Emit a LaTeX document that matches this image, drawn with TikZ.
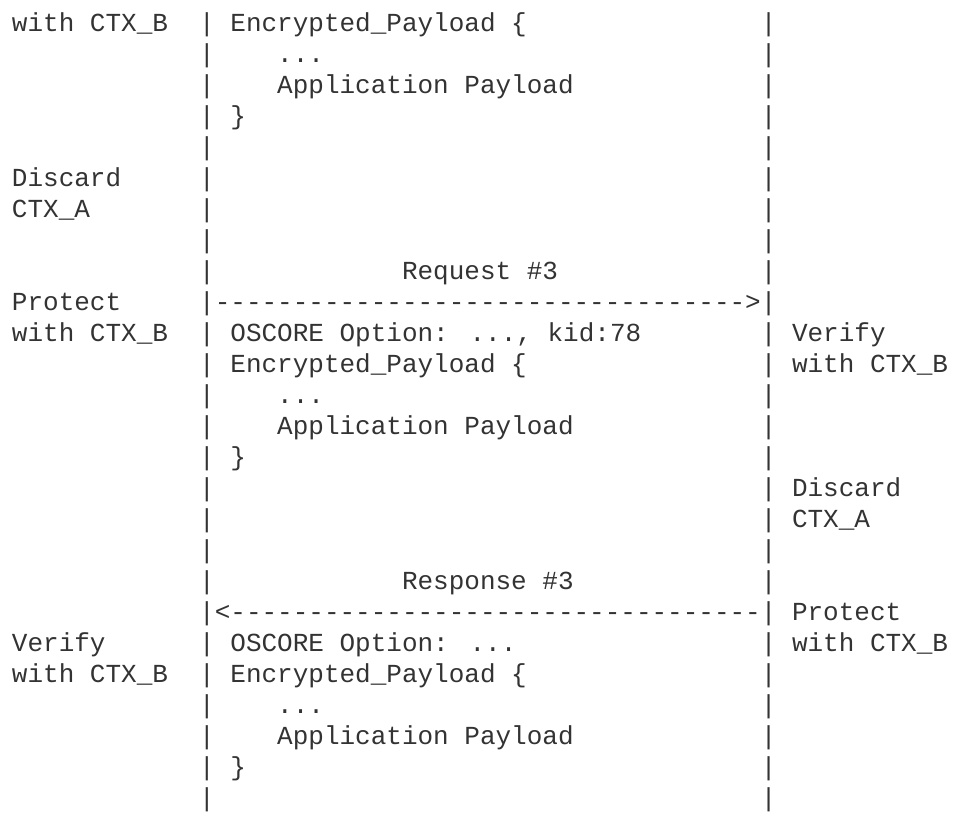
\documentclass[tikz,border=0pt]{standalone}
\usepackage{fontspec}
\newfontfamily\monofam[Ligatures=TeXOff]{Liberation Mono}
\definecolor{ink}{HTML}{333333}
% one character cell: 15.6pt wide, 31pt per line
\newcommand{\cellw}{15.6}
\newcommand{\lineh}{31}
\newcommand{\putcell}[3]{%
  \node[txt] (r#1c#2) at ({12+#2*\cellw},{-\lineh-\lineh*#1}) {#3};}
\begin{document}
\begin{tikzpicture}[x=1pt,y=1pt,
  txt/.style={anchor=base west,inner sep=0pt,outer sep=0pt,text=ink,
    font=\monofam\fontsize{26}{31}\selectfont}]
\useasboundingbox (0,0) rectangle (953,-815);
% lifelines of both endpoints (drawn as ASCII bars)
\foreach \r in {0,...,8,10,11,...,18,20,21,...,25}{
  \putcell{\r}{12}{|}
  \putcell{\r}{48}{|}
}
% left column annotations
\putcell{0}{0}{with CTX\_B}
\putcell{5}{0}{Discard}
\putcell{6}{0}{CTX\_A}
\putcell{9}{0}{Protect}
\putcell{10}{0}{with CTX\_B}
\putcell{20}{0}{Verify}
\putcell{21}{0}{with CTX\_B}
% right column annotations
\putcell{10}{50}{Verify}
\putcell{11}{50}{with CTX\_B}
\putcell{15}{50}{Discard}
\putcell{16}{50}{CTX\_A}
\putcell{19}{50}{Protect}
\putcell{20}{50}{with CTX\_B}
% first message body (tail)
\putcell{0}{14}{Encrypted\_Payload \{}
\putcell{1}{17}{...}
\putcell{2}{17}{Application Payload}
\putcell{3}{14}{\}}
% request #3
\putcell{8}{25}{Request \#3}
\putcell{9}{12}{|---------------------------------->|}
\putcell{10}{14}{OSCORE Option: ..., kid:78}
\putcell{11}{14}{Encrypted\_Payload \{}
\putcell{12}{17}{...}
\putcell{13}{17}{Application Payload}
\putcell{14}{14}{\}}
% response #3
\putcell{18}{25}{Response \#3}
\putcell{19}{12}{|<----------------------------------|}
\putcell{20}{14}{OSCORE Option: ...}
\putcell{21}{14}{Encrypted\_Payload \{}
\putcell{22}{17}{...}
\putcell{23}{17}{Application Payload}
\putcell{24}{14}{\}}
\end{tikzpicture}
\end{document}
